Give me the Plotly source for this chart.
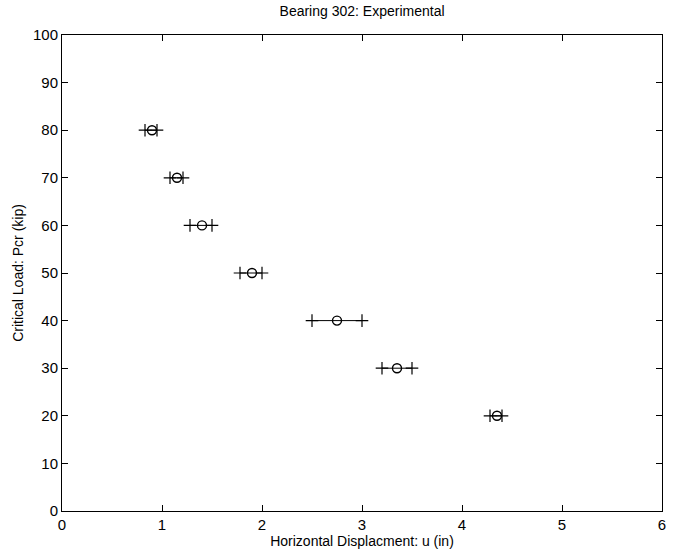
import plotly.graph_objects as go

# Critical load levels (kip) and measured horizontal displacement (in)
loads = [80, 70, 60, 50, 40, 30, 20]
u_mean = [0.90, 1.15, 1.40, 1.90, 2.75, 3.35, 4.35]
u_min = [0.83, 1.08, 1.28, 1.78, 2.50, 3.20, 4.28]
u_max = [0.95, 1.21, 1.50, 2.00, 3.00, 3.50, 4.40]

fig = go.Figure()

# Range bars: line from min to max with "+" at both ends
for p, lo, hi in zip(loads, u_min, u_max):
    fig.add_trace(go.Scatter(
        x=[lo, hi], y=[p, p], mode="lines+markers",
        line=dict(color="black", width=1),
        marker=dict(symbol="cross-thin", size=9,
                    line=dict(color="black", width=1.2)),
        showlegend=False, hoverinfo="skip"))

# Mean displacement as open circles
fig.add_trace(go.Scatter(
    x=u_mean, y=loads, mode="markers",
    marker=dict(symbol="circle-open", size=9, color="black",
                line=dict(color="black", width=1.4)),
    showlegend=False))

font = "Liberation Sans, Arial, Helvetica, sans-serif"
axis_common = dict(
    showline=True, linecolor="black", linewidth=1, mirror="ticks",
    ticks="inside", ticklen=6, tickcolor="black", showgrid=False,
    zeroline=False, automargin=False,
    tickfont=dict(size=15, color="black", family=font))

fig.update_layout(
    width=678, height=554,
    margin=dict(l=62, r=16, t=35, b=43),
    paper_bgcolor="white", plot_bgcolor="white",
    title=dict(text="Bearing 302: Experimental", x=0.534, xanchor="center",
               y=0.988, yanchor="top",
               font=dict(size=14, color="black", family=font)),
    xaxis=dict(range=[0, 6], dtick=1,
               title=dict(text="Horizontal Displacment: u (in)", standoff=0,
                          font=dict(size=14, color="black", family=font)),
               **axis_common),
    yaxis=dict(range=[0, 100], dtick=10,
               title=dict(text="Critical Load: Pcr (kip)", standoff=6,
                          font=dict(size=14, color="black", family=font)),
               **axis_common),
)

fig.write_html("out.html")
